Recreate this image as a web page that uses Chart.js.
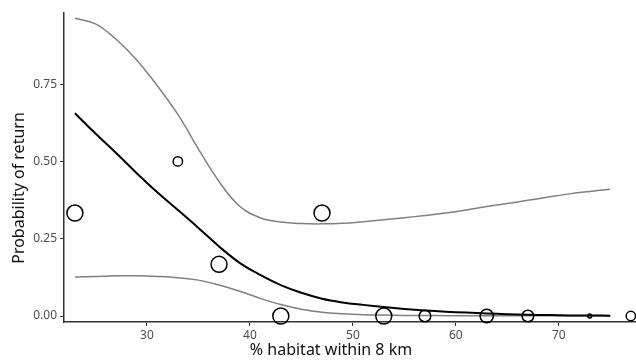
<!DOCTYPE html>
<html>
<head>
<meta charset="utf-8">
<script src="https://cdn.jsdelivr.net/npm/chart.js@4"></script>
<style>
  html, body { margin: 0; padding: 0; background: #fff; }
  canvas { display: block; }
</style>
</head>
<body>
<canvas id="returnChart" width="636" height="360"></canvas>
<script>
// observed sites: % habitat, proportion returned, number of birds
const habitatPct = [23, 33, 37, 43, 47, 53, 57, 63, 67, 73, 77];
const returnProp = [0.333, 0.5, 0.167, 0, 0.333, 0, 0, 0, 0, 0, 0];
const sampleN = [6, 2, 6, 6, 6, 6, 3, 4, 3, 1, 2];

// fitted curve and 95% band
const fitX = [23, 25, 27, 29, 31, 33, 35, 37, 39, 41, 43, 45, 47, 49, 51, 53, 55, 57, 59, 61, 63, 65, 67, 69, 71, 73, 75];
const fitY = [0.656, 0.59, 0.527, 0.462, 0.40, 0.343, 0.285, 0.225, 0.172, 0.133, 0.10, 0.075, 0.056, 0.044, 0.036, 0.029, 0.023, 0.018, 0.014, 0.011, 0.008, 0.006, 0.004, 0.003, 0.002, 0.0015, 0.001];
const upperY = [0.963, 0.945, 0.895, 0.828, 0.745, 0.652, 0.54, 0.435, 0.355, 0.318, 0.304, 0.299, 0.298, 0.300, 0.305, 0.311, 0.318, 0.325, 0.333, 0.343, 0.354, 0.364, 0.374, 0.385, 0.395, 0.403, 0.41];
const lowerY = [0.126, 0.128, 0.130, 0.130, 0.128, 0.124, 0.116, 0.10, 0.08, 0.057, 0.037, 0.022, 0.012, 0.007, 0.004, 0.003, 0.002, 0.002, 0.001, 0.001, 0.001, 0.001, 0.001, 0.001, 0.001, 0.001, 0.001];

// tick labels and axis titles
const xTicks = [30, 40, 50, 60, 70];
const yTicks = [0, 0.25, 0.5, 0.75];
const xTitle = '% habitat within 8 km';
const yTitle = 'Probability of return';

// n -> circle radius (like ggplot area scale)
function sizeToRadius(n) {
  const nMin = Math.min(...sampleN), nMax = Math.max(...sampleN);
  return 2 + 6 * Math.sqrt((n - nMin) / (nMax - nMin));
}

function toXY(xs, ys) {
  return xs.map((x, i) => ({ x: x, y: ys[i] }));
}

// the titles in the figure are not centred on the panel, so draw them here
const axisTitles = {
  id: 'axisTitles',
  afterDraw(chart) {
    const c = chart.ctx;
    c.save();
    c.font = '16px "Noto Sans"';
    c.fillStyle = '#111';
    c.textAlign = 'center';
    c.textBaseline = 'middle';
    c.fillText(xTitle, 331, 350);
    c.translate(19, 188);
    c.rotate(-Math.PI / 2);
    c.fillText(yTitle, 0, 0);
    c.restore();
  }
};

const lineBase = {
  showLine: true,
  pointRadius: 0,
  pointHoverRadius: 0,
  fill: false,
  tension: 0.4
};

const axisColor = '#333333';
const tickColor = '#4d4d4d';

const ctx = document.getElementById('returnChart').getContext('2d');
new Chart(ctx, {
  type: 'scatter',
  data: {
    datasets: [
      {
        label: 'observed',
        data: toXY(habitatPct, returnProp),
        pointRadius: sampleN.map(sizeToRadius),
        pointBackgroundColor: 'rgba(0,0,0,0)',
        pointBorderColor: '#000',
        pointBorderWidth: 1.5,
        clip: false
      },
      Object.assign({}, lineBase, {
        label: 'fit',
        data: toXY(fitX, fitY),
        borderColor: '#000',
        borderWidth: 2
      }),
      Object.assign({}, lineBase, {
        label: 'upper',
        data: toXY(fitX, upperY),
        borderColor: '#808080',
        borderWidth: 1.5
      }),
      Object.assign({}, lineBase, {
        label: 'lower',
        data: toXY(fitX, lowerY),
        borderColor: '#808080',
        borderWidth: 1.5
      })
    ]
  },
  options: {
    responsive: false,
    animation: false,
    devicePixelRatio: 1,
    layout: { autoPadding: false, padding: { top: 13, right: 0, bottom: 0, left: 0 } },
    plugins: {
      legend: { display: false },
      tooltip: { enabled: false }
    },
    scales: {
      x: {
        type: 'linear',
        min: 21.94,
        max: 77.5,
        afterBuildTicks: s => { s.ticks = xTicks.map(v => ({ value: v })); },
        afterFit: s => { s.height = 38; },
        grid: { display: true, drawOnChartArea: false, drawTicks: true, tickLength: 4, color: axisColor },
        border: { display: true, color: axisColor, width: 1.5 },
        ticks: { color: tickColor, font: { family: 'Noto Sans', size: 12 }, padding: 2, maxRotation: 0 },
        title: { display: false }
      },
      y: {
        type: 'linear',
        min: -0.0194,
        max: 0.98,
        afterBuildTicks: s => { s.ticks = yTicks.map(v => ({ value: v })); },
        afterFit: s => { s.width = 64; },
        grid: { display: true, drawOnChartArea: false, drawTicks: true, tickLength: 4, color: axisColor },
        border: { display: true, color: axisColor, width: 1.5 },
        ticks: {
          color: tickColor,
          font: { family: 'Noto Sans', size: 12 },
          padding: 3,
          callback: v => v.toFixed(2)
        },
        title: { display: false }
      }
    }
  },
  plugins: [axisTitles]
});
</script>
</body>
</html>
